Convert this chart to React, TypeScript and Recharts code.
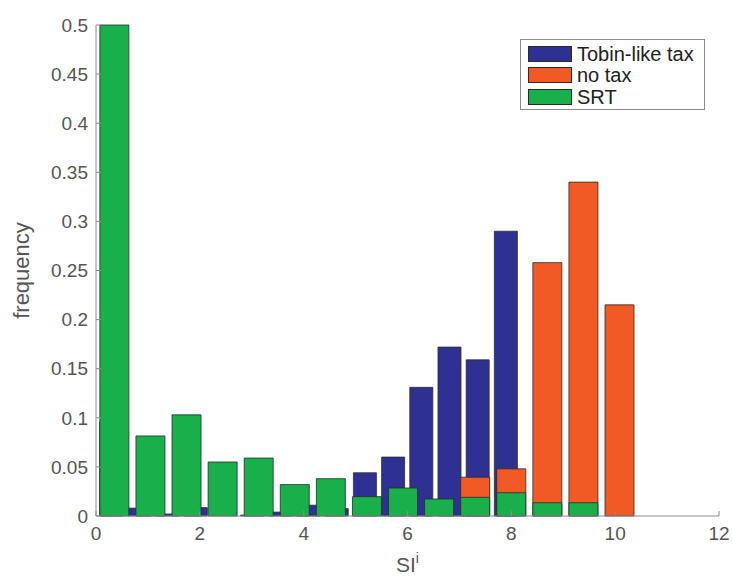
import { BarChart, Bar, XAxis, YAxis, Label } from "recharts";

// Histogram of SI^i under three regimes. MATLAB drew the bars overlapping
// (blue first, then orange, then green), each series with its own bins,
// so every series gets its own chart layer stacked on the same axes.
const WIDTH = 733;
const HEIGHT = 578;
const MARGIN = { top: 25, right: 14, bottom: 0, left: 36 };
const FONT = '"Liberation Sans", Arial, sans-serif';

const X_TICKS = [0, 2, 4, 6, 8, 10, 12];
const Y_TICKS = [0, 0.05, 0.1, 0.15, 0.2, 0.25, 0.3, 0.35, 0.4, 0.45, 0.5];

// bin centres (Tobin-like tax uses narrower bins than the other two)
const TOBIN_BINS = [
  0.285, 0.828, 1.371, 1.914, 2.457, 3.0, 3.543, 4.086, 4.629, 5.172, 5.715,
  6.258, 6.801, 7.344, 7.887,
];
const WIDE_BINS = [
  0.345, 1.04, 1.735, 2.43, 3.125, 3.82, 4.515, 5.21, 5.905, 6.6, 7.295, 7.99,
  8.685, 9.38, 10.075,
];

const TOBIN = [
  0.096, 0.008, 0.002, 0.0085, 0, 0.001, 0.004, 0.011, 0.0075, 0.044, 0.06,
  0.131, 0.172, 0.159, 0.29,
];
const NO_TAX = [0, 0, 0, 0, 0, 0, 0, 0, 0, 0, 0.0395, 0.048, 0.258, 0.34, 0.215];
const SRT = [
  0.5, 0.0815, 0.103, 0.055, 0.059, 0.032, 0.038, 0.0197, 0.0285, 0.0173, 0.019,
  0.0237, 0.0135, 0.0135, 0,
];

const SERIES = [
  { name: "Tobin-like tax", color: "#2e3192", bins: TOBIN_BINS, values: TOBIN, barSize: 23 },
  { name: "no tax", color: "#f15a24", bins: WIDE_BINS, values: NO_TAX, barSize: 29 },
  { name: "SRT", color: "#17b04b", bins: WIDE_BINS, values: SRT, barSize: 29 },
];

const AXIS_GREY = "#8c8c8c";
const TICK_GREY = "#555";

function XLabel(props: any) {
  const { x, y, width, height } = props.viewBox;
  return (
    <text
      x={x + width / 2}
      y={y + height - 6}
      textAnchor="middle"
      fill={TICK_GREY}
      fontFamily={FONT}
      fontSize={21}
    >
      SI
      <tspan dy={-9} fontSize={14}>
        i
      </tspan>
    </text>
  );
}

function YLabel(props: any) {
  const { x, y, height } = props.viewBox;
  const cx = x - 15;
  const cy = y + height / 2;
  return (
    <text
      x={cx}
      y={cy}
      textAnchor="middle"
      dominantBaseline="central"
      transform={`rotate(-90, ${cx}, ${cy})`}
      fill={TICK_GREY}
      fontFamily={FONT}
      fontSize={22}
    >
      frequency
    </text>
  );
}

function HistLayer({ series, showAxes }: { series: (typeof SERIES)[number]; showAxes: boolean }) {
  const data = series.bins.map((x, i) => ({ x, value: series.values[i] }));
  const tick = showAxes ? { fill: TICK_GREY, fontSize: 19, fontFamily: FONT } : false;

  return (
    <div style={{ position: "absolute", left: 0, top: 0 }}>
      <BarChart width={WIDTH} height={HEIGHT} data={data} margin={MARGIN}>
        <XAxis
          type="number"
          dataKey="x"
          domain={[0, 12]}
          ticks={X_TICKS}
          height={62}
          tick={tick}
          tickSize={-5}
          tickMargin={16}
          tickLine={showAxes ? { stroke: AXIS_GREY } : false}
          axisLine={showAxes ? { stroke: AXIS_GREY } : false}
        >
          {showAxes && <Label content={XLabel} />}
        </XAxis>
        <YAxis
          type="number"
          domain={[0, 0.5]}
          ticks={Y_TICKS}
          width={60}
          tick={tick}
          tickSize={-5}
          tickMargin={13}
          tickLine={showAxes ? { stroke: AXIS_GREY } : false}
          axisLine={showAxes ? { stroke: AXIS_GREY } : false}
          tickFormatter={(v: number) => String(+v.toFixed(2))}
        >
          {showAxes && <Label content={YLabel} />}
        </YAxis>
        <Bar
          dataKey="value"
          fill={series.color}
          stroke="#2b2b2b"
          strokeWidth={0.8}
          barSize={series.barSize}
          isAnimationActive={false}
        />
      </BarChart>
    </div>
  );
}

function LegendBox() {
  return (
    <div
      style={{
        position: "absolute",
        left: 520,
        top: 39,
        width: 185,
        height: 71,
        boxSizing: "border-box",
        border: `1px solid ${AXIS_GREY}`,
        background: "#fff",
        paddingTop: 3,
        fontFamily: FONT,
        fontSize: 20,
        color: "#222",
      }}
    >
      {SERIES.map((s) => (
        <div key={s.name} style={{ display: "flex", alignItems: "center", height: 21.5 }}>
          <span
            style={{
              display: "inline-block",
              marginLeft: 7,
              width: 44,
              height: 16,
              boxSizing: "border-box",
              background: s.color,
              border: "1px solid #2b2b2b",
            }}
          />
          <span style={{ marginLeft: 5, lineHeight: "20px" }}>{s.name}</span>
        </div>
      ))}
    </div>
  );
}

export default function App() {
  return (
    <div
      style={{
        position: "absolute",
        left: 0,
        top: 0,
        width: WIDTH,
        height: HEIGHT,
        background: "#fff",
        overflow: "hidden",
      }}
    >
      {SERIES.map((s, i) => (
        <HistLayer key={s.name} series={s} showAxes={i === SERIES.length - 1} />
      ))}
      <LegendBox />
    </div>
  );
}
